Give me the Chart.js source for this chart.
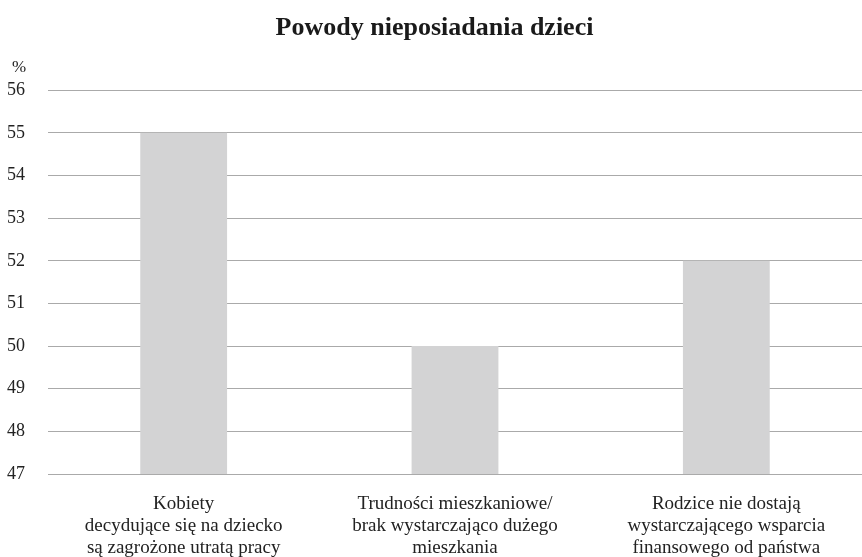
<!DOCTYPE html>
<html>
<head>
<meta charset="utf-8">
<script src="https://cdn.jsdelivr.net/npm/chart.js@4"></script>
<style>
  html, body { margin: 0; padding: 0; background: #fff; }
  #wrap { width: 862px; height: 557px; }
</style>
</head>
<body>
<div id="wrap"><canvas id="chart"></canvas></div>
<script>
const categories = [
  ["Kobiety", "decydujące się na dziecko", "są zagrożone utratą pracy"],
  ["Trudności mieszkaniowe/", "brak wystarczająco dużego", "mieszkania"],
  ["Rodzice nie dostają", "wystarczającego wsparcia", "finansowego od państwa"]
];
const values = [55, 50, 52];
const yMin = 47;
const yMax = 56;
const unitLabel = "%";

const serif = "'Liberation Serif', 'Times New Roman', serif";

// "%" above the y tick labels
const unitPlugin = {
  id: "unit",
  afterDraw(chart) {
    const ctx = chart.ctx;
    const y = chart.scales.y;
    ctx.save();
    ctx.font = "17px " + serif;
    ctx.fillStyle = "#222";
    ctx.textBaseline = "middle";
    ctx.fillText(unitLabel, 12, y.top - 23);
    ctx.restore();
  }
};

new Chart(document.getElementById("chart"), {
  type: "bar",
  data: {
    labels: categories,
    datasets: [{
      data: values,
      backgroundColor: "#d3d3d4",
      categoryPercentage: 1,
      barPercentage: 0.32
    }]
  },
  options: {
    responsive: true,
    maintainAspectRatio: false,
    animation: false,
    layout: { padding: { left: 7, right: 0, top: 0, bottom: 0 } },
    plugins: {
      legend: { display: false },
      tooltip: { enabled: false },
      title: {
        display: true,
        text: "Powody nieposiadania dzieci",
        color: "#1a1a1a",
        font: { family: serif, size: 26, weight: "bold", lineHeight: 1.2 },
        padding: { top: 13, bottom: 46 }
      }
    },
    scales: {
      x: {
        grid: { display: false },
        border: { display: false },
        afterFit(scale) { scale.height = 83; },
        ticks: {
          color: "#222",
          font: { family: serif, size: 19, lineHeight: 1.16 },
          padding: 11,
          maxRotation: 0,
          autoSkip: false
        }
      },
      y: {
        min: yMin,
        max: yMax,
        grid: { color: "#aaaaaa", lineWidth: 1, drawTicks: false },
        border: { display: false },
        afterFit(scale) { scale.width = 41; },
        ticks: {
          stepSize: 1,
          color: "#222",
          font: { family: serif, size: 18 },
          crossAlign: "far",
          padding: 20
        }
      }
    }
  },
  plugins: [unitPlugin]
});
</script>
</body>
</html>
